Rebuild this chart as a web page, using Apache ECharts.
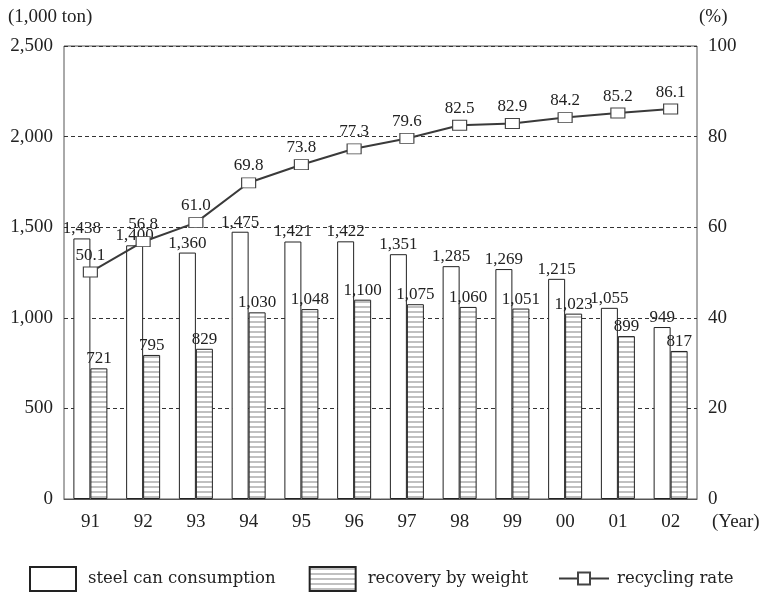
<!DOCTYPE html>
<html><head><meta charset="utf-8">
<script src="https://cdn.jsdelivr.net/npm/echarts@6/dist/echarts.min.js"></script>
<style>html,body{margin:0;padding:0;background:#fff}#c{width:764px;height:592px}</style>
</head><body><div id="c"></div>
<script>
const years = ['91','92','93','94','95','96','97','98','99','00','01','02'];
const consumption = [1438,1400,1360,1475,1421,1422,1351,1285,1269,1215,1055,949];
const recovery = [721,795,829,1030,1048,1100,1075,1060,1051,1023,899,817];
const rate = [50.1,56.8,61.0,69.8,73.8,77.3,79.6,82.5,82.9,84.2,85.2,86.1];
const leftTicks = {min:0,max:2500,interval:500};
const rightTicks = {min:0,max:100,interval:20};

const NUM = '"Liberation Serif", serif';
const WORD = '"DejaVu Serif", serif';
const TXT = '#222';
const cv = document.createElement('canvas');
cv.width = 4; cv.height = 5;
const cx = cv.getContext('2d');
cx.fillStyle = '#fff'; cx.fillRect(0,0,4,5);
cx.fillStyle = '#c0c0c0'; cx.fillRect(0,1,4,2);
const hatch = {image: cv, repeat: 'repeat'};

const fmt = v => v.toLocaleString('en-US');
const chart = echarts.init(document.getElementById('c'), null, {renderer:'canvas'});
chart.setOption({
  animation:false,
  grid:{left:64,right:67,top:46,bottom:93,show:true,borderColor:'#555',borderWidth:1,backgroundColor:'transparent'},
  xAxis:{type:'category',data:years,
    axisLine:{lineStyle:{color:'#555'}},
    axisTick:{inside:true,length:9,lineStyle:{color:'#333'}},
    axisLabel:{margin:14,color:TXT,fontFamily:NUM,fontSize:19}},
  yAxis:[
    {type:'value',min:leftTicks.min,max:leftTicks.max,interval:leftTicks.interval,
     axisLine:{show:false},axisTick:{show:false},
     axisLabel:{margin:11,color:TXT,fontFamily:NUM,fontSize:19,formatter:v=>fmt(v)},
     splitLine:{show:true,lineStyle:{color:'#333',type:[4,3],width:1}}},
    {type:'value',min:rightTicks.min,max:rightTicks.max,interval:rightTicks.interval,
     axisLine:{show:false},axisTick:{show:false},
     axisLabel:{margin:11,color:TXT,fontFamily:NUM,fontSize:19},
     splitLine:{show:false}}
  ],
  legend:[
    {left:24,top:561,itemWidth:46,itemHeight:24,itemGap:33,icon:'rect',
     textStyle:{color:TXT,fontFamily:WORD,fontSize:16.5,padding:[0,0,0,7]},
     data:['steel can consumption','recovery by weight']},
    {left:553,top:565,itemWidth:50,itemHeight:15,itemGap:10,
     textStyle:{color:TXT,fontFamily:WORD,fontSize:16.5,padding:[0,0,0,3]},
     data:['recycling rate']}
  ],
  graphic:[
    {type:'text',left:8,top:8,style:{text:'(1,000 ton)',font:'19px '+NUM,fill:TXT}},
    {type:'text',left:699,top:8,style:{text:'(%)',font:'19px '+NUM,fill:TXT}},
    {type:'text',left:712,top:513,style:{text:'(Year)',font:'19px '+NUM,fill:TXT}}
  ],
  series:[
    {name:'steel can consumption',type:'bar',data:consumption,barWidth:17,barGap:'0%',
     itemStyle:{color:'#fff',borderColor:'#222',borderWidth:1},
     label:{show:true,position:'top',distance:1,color:TXT,fontFamily:NUM,fontSize:17,formatter:p=>fmt(p.value)}},
    {name:'recovery by weight',type:'bar',data:recovery,barWidth:17,barGap:'0%',
     itemStyle:{color:hatch,borderColor:'#222',borderWidth:1},
     label:{show:true,position:'top',distance:1,color:TXT,fontFamily:NUM,fontSize:17,formatter:p=>fmt(p.value)}},
    {name:'recycling rate',type:'line',yAxisIndex:1,data:rate,z:5,
     symbol:'rect',symbolSize:[14,10],
     lineStyle:{color:'#3a3a3a',width:2},
     itemStyle:{color:'#fff',borderColor:'#444',borderWidth:1},
     label:{show:true,position:'top',distance:3,color:TXT,fontFamily:NUM,fontSize:17,formatter:p=>p.value.toFixed(1)}}
  ]
});
</script></body></html>
